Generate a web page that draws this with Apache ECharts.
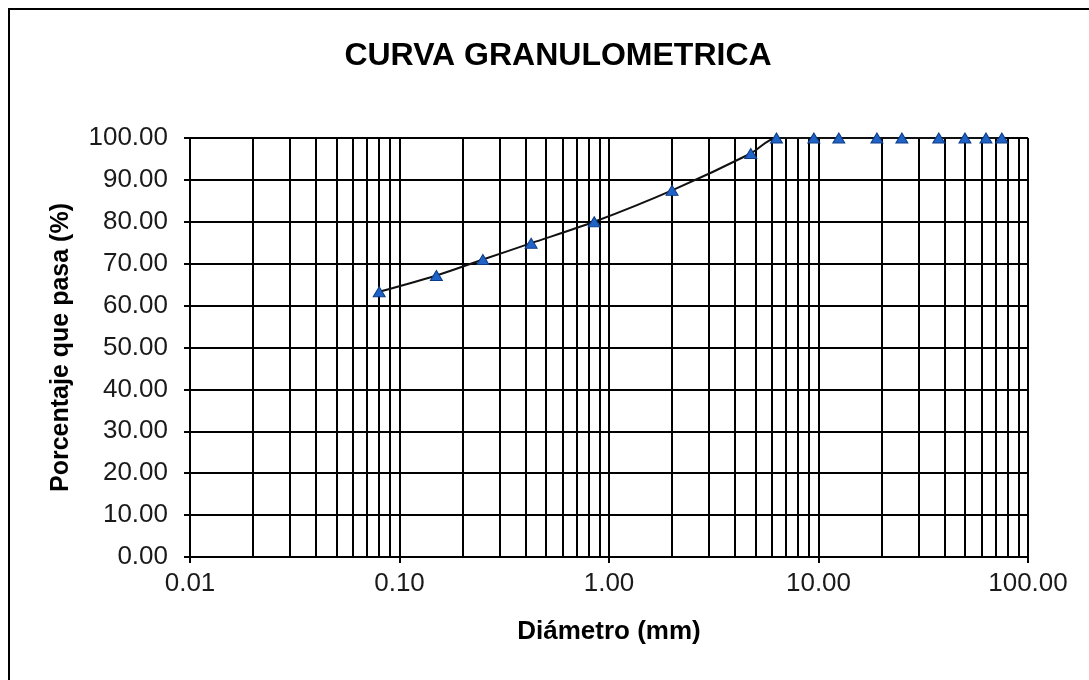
<!DOCTYPE html>
<html>
<head>
<meta charset="utf-8">
<script src="https://cdn.jsdelivr.net/npm/echarts@6/dist/echarts.min.js"></script>
<style>
  html, body { margin: 0; padding: 0; background: #fff; }
  #chart { width: 1089px; height: 680px; }
</style>
</head>
<body>
<div id="chart"></div>
<script>
// Sieve openings (mm) and cumulative percentage passing
const diameters = [0.08, 0.15, 0.25, 0.425, 0.85, 2.0, 4.75, 6.3, 9.5, 12.5, 19, 25, 37.5, 50, 63, 75];
const passing   = [63.3, 67.2, 71.0, 74.9, 80.0, 87.5, 96.3, 100, 100, 100, 100, 100, 100, 100, 100, 100];

// Logarithmic grid: intermediate vertical lines at 2..9 of each decade
const minorMultipliers = [2, 3, 4, 5, 6, 7, 8, 9];
const decades = [0.01, 0.1, 1, 10];
const minorLines = [];
decades.forEach(d => minorMultipliers.forEach(m => minorLines.push(+(d * m).toPrecision(3))));

const titleText = 'CURVA GRANULOMETRICA';
const xName = 'Diámetro (mm)';
const yName = 'Porcentaje que pasa (%)';

const FONT = '"Liberation Sans", Arial, sans-serif';

const chart = echarts.init(document.getElementById('chart'), null, { renderer: 'canvas' });

chart.setOption({
  backgroundColor: '#fff',
  animation: false,
  title: {
    text: titleText,
    left: 553,
    top: 35,
    textAlign: 'center',
    textStyle: { fontFamily: FONT, fontWeight: 'bold', fontSize: 32, color: '#000' }
  },
  graphic: [{
    type: 'rect',
    shape: { x: 9, y: 9, width: 1100, height: 700 },
    style: { fill: 'none', stroke: '#000', lineWidth: 2 },
    silent: true
  }],
  grid: { left: 190, right: 61, top: 138, bottom: 123, containLabel: false },
  xAxis: {
    type: 'log',
    logBase: 10,
    min: 0.01,
    max: 100,
    name: xName,
    nameLocation: 'middle',
    nameGap: 62,
    nameTextStyle: { fontFamily: FONT, fontWeight: 'bold', fontSize: 26, color: '#000' },
    axisLine: { show: true, lineStyle: { color: '#000', width: 2 } },
    axisTick: { show: true, inside: false, length: 6, lineStyle: { color: '#000', width: 2 } },
    axisLabel: {
      margin: 14,
      fontFamily: FONT, fontSize: 26, color: '#1a1a1a',
      formatter: v => Number(v).toFixed(2)
    },
    splitLine: { show: true, lineStyle: { color: '#000', width: 2 } },
    minorTick: { show: false },
    minorSplitLine: { show: false }
  },
  yAxis: {
    type: 'value',
    min: 0,
    max: 100,
    interval: 10,
    name: yName,
    nameLocation: 'middle',
    nameGap: 116,
    nameRotate: 90,
    nameTextStyle: { fontFamily: FONT, fontWeight: 'bold', fontSize: 25, color: '#000' },
    axisLine: { show: true, lineStyle: { color: '#000', width: 2 } },
    axisTick: { show: true, inside: false, length: 6, lineStyle: { color: '#000', width: 2 } },
    axisLabel: {
      margin: 22,
      fontFamily: FONT, fontSize: 26, color: '#1a1a1a',
      formatter: v => Number(v).toFixed(2)
    },
    splitLine: { show: true, lineStyle: { color: '#000', width: 2 } }
  },
  series: [
    {
      // intermediate log grid lines
      type: 'line',
      data: [],
      z: 1,
      silent: true,
      markLine: {
        silent: true,
        symbol: ['none', 'none'],
        label: { show: false },
        lineStyle: { color: '#000', width: 2, type: 'solid' },
        emphasis: { disabled: true },
        data: minorLines.map(v => ({ xAxis: v }))
      }
    },
    {
      name: 'Granulometría',
      type: 'line',
      z: 5,
      smooth: 0.3,
      data: diameters.map((d, i) => [d, passing[i]]),
      symbol: 'triangle',
      symbolSize: [12, 10],
      itemStyle: { color: '#1f63c6', borderColor: '#0d3c86', borderWidth: 1 },
      lineStyle: { color: '#111', width: 2 },
      emphasis: { disabled: true }
    }
  ]
});
</script>
</body>
</html>
